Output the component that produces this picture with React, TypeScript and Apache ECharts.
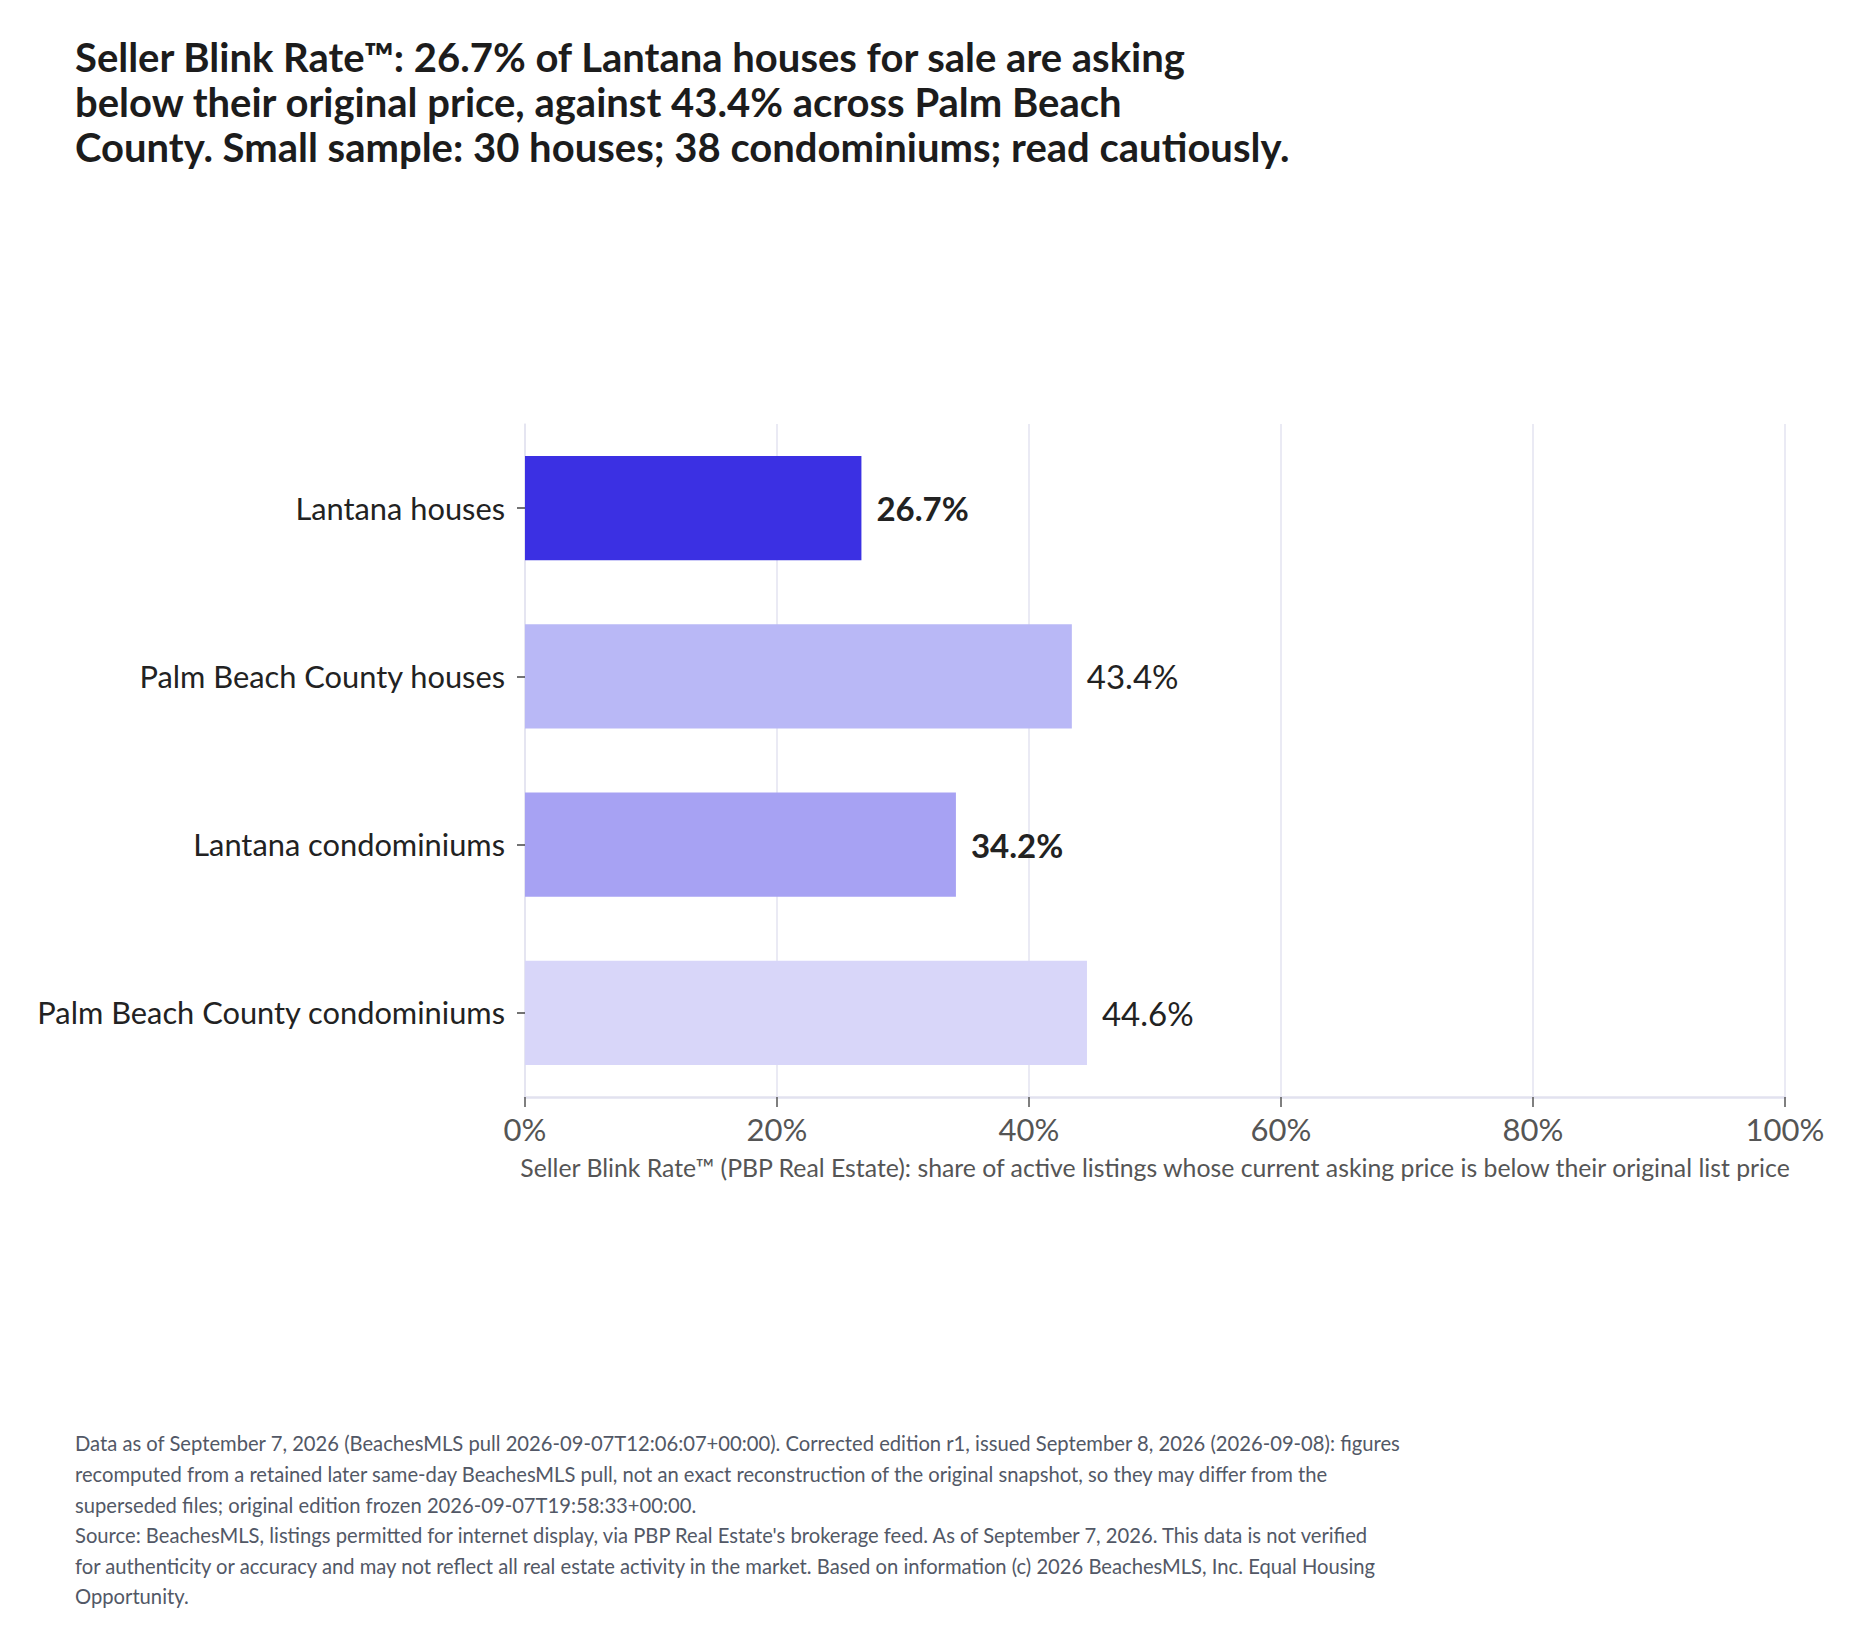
import React, { useEffect, useRef } from "react";
import * as echarts from "echarts";

const titleLines = [
  "Seller Blink Rate™: 26.7% of Lantana houses for sale are asking",
  "below their original price, against 43.4% across Palm Beach",
  "County. Small sample: 30 houses; 38 condominiums; read cautiously.",
];

const categories = [
  "Lantana houses",
  "Palm Beach County houses",
  "Lantana condominiums",
  "Palm Beach County condominiums",
];
const values = [26.7, 43.4, 34.2, 44.6];
const barColors = ["#3b30e3", "#b9b8f6", "#a7a2f3", "#d8d6f9"];
const boldLabel = [true, false, true, false];

const xMin = 0;
const xMax = 100;
const xInterval = 20;
const xAxisName =
  "Seller Blink Rate™ (PBP Real Estate): share of active listings whose current asking price is below their original list price";

const footerLines = [
  "Data as of September 7, 2026 (BeachesMLS pull 2026-09-07T12:06:07+00:00). Corrected edition r1, issued September 8, 2026 (2026-09-08): figures",
  "recomputed from a retained later same-day BeachesMLS pull, not an exact reconstruction of the original snapshot, so they may differ from the",
  "superseded files; original edition frozen 2026-09-07T19:58:33+00:00.",
  "Source: BeachesMLS, listings permitted for internet display, via PBP Real Estate's brokerage feed. As of September 7, 2026. This data is not verified",
  "for authenticity or accuracy and may not reflect all real estate activity in the market. Based on information (c) 2026 BeachesMLS, Inc. Equal Housing",
  "Opportunity.",
];

const FONT = "Lato, 'Noto Sans', sans-serif";

export default function App() {
  const ref = useRef<HTMLDivElement>(null);

  useEffect(() => {
    document.body.style.margin = "0";
    if (!ref.current) return;
    const chart = echarts.init(ref.current, undefined, { renderer: "svg" });

    chart.setOption({
      animation: false,
      backgroundColor: "#ffffff",
      textStyle: { fontFamily: FONT },
      title: [
        {
          text: titleLines.join("\n"),
          left: 75,
          top: 35,
          padding: 0,
          textStyle: {
            fontFamily: FONT,
            fontSize: 40,
            fontWeight: "bold",
            color: "#1c1c1c",
            lineHeight: 44.8,
          },
        },
        {
          text: footerLines.join("\n"),
          left: 75,
          top: 1428,
          padding: 0,
          textStyle: {
            fontFamily: FONT,
            fontSize: 20.2,
            fontWeight: "normal",
            color: "#525866",
            lineHeight: 30.6,
          },
        },
      ],
      grid: {
        left: 525,
        right: 75,
        top: 424,
        bottom: 547,
      },
      xAxis: {
        type: "value",
        min: xMin,
        max: xMax,
        interval: xInterval,
        name: xAxisName,
        nameLocation: "middle",
        nameGap: 58,
        nameTextStyle: {
          fontFamily: FONT,
          fontSize: 24.8,
          color: "#555555",
        },
        axisLine: {
          show: true,
          lineStyle: { color: "#e2e2ef", width: 2.5 },
        },
        axisTick: {
          show: true,
          length: 10,
          lineStyle: { color: "#555555", width: 1.5 },
        },
        axisLabel: {
          fontFamily: FONT,
          fontSize: 31,
          color: "#555555",
          margin: 16,
          formatter: (v: number) => `${v}%`,
        },
        splitLine: {
          show: true,
          lineStyle: { color: "#e3e3f0", width: 1.5 },
        },
      },
      yAxis: {
        type: "category",
        data: categories,
        inverse: true,
        axisLine: {
          show: true,
          lineStyle: { color: "#e3e3f0", width: 1.5 },
        },
        axisTick: {
          show: true,
          alignWithLabel: true,
          length: 8,
          lineStyle: { color: "#444444", width: 1.5 },
        },
        axisLabel: {
          fontFamily: FONT,
          fontSize: 30.8,
          color: "#222222",
          margin: 20,
        },
        splitLine: { show: false },
      },
      series: [
        {
          type: "bar",
          barCategoryGap: "38%",
          data: values.map((v, i) => ({
            value: v,
            itemStyle: { color: barColors[i] },
            label: {
              show: true,
              position: "right",
              distance: 15,
              fontFamily: FONT,
              fontSize: 33,
              fontWeight: boldLabel[i] ? "bold" : "normal",
              color: "#222222",
              formatter: () => `${v.toFixed(1)}%`,
            },
          })),
        },
      ],
    });

    return () => chart.dispose();
  }, []);

  return <div ref={ref} style={{ width: 1860, height: 1644 }} />;
}
